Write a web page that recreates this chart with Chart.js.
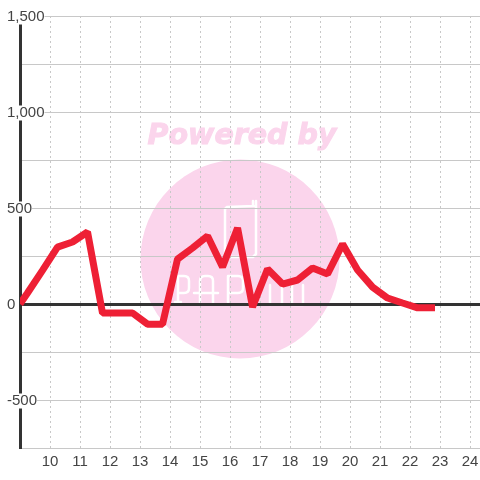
<!DOCTYPE html>
<html>
<head>
<meta charset="utf-8">
<style>
html, body { margin: 0; padding: 0; background: #fff; }
#wrap { position: relative; width: 480px; height: 480px; }
</style>
<script src="https://cdn.jsdelivr.net/npm/chart.js@4"></script>
</head>
<body>
<div id="wrap"><canvas id="myChart"></canvas></div>
<script>
// Data
const hours = [9, 9.25, 9.75, 10.25, 10.75, 11.25, 11.75, 12.25, 12.75, 13.25, 13.75, 14.25, 14.75, 15.25, 15.75, 16.25, 16.75, 17.25, 17.75, 18.25, 18.75, 19.25, 19.75, 20.25, 20.75, 21.25, 21.75, 22.25, 22.83];
const values = [0, 57, 175, 296, 323, 375, -47, -47, -47, -105, -105, 234, 292, 354, 193, 396, -16, 182, 104, 125, 187, 156, 312, 177, 88, 31, 5, -20, -20];
const xTicks = [10, 11, 12, 13, 14, 15, 16, 17, 18, 19, 20, 21, 22, 23, 24];
const yTicks = [-750, -500, -250, 0, 250, 500, 750, 1000, 1250, 1500];
const yLabelled = [-500, 0, 500, 1000, 1500];

// Watermark sits behind the grid
const watermark = {
    id: 'watermark',
    beforeDraw(chart) {
        const c = chart.ctx;
        c.save();
        c.fillStyle = '#fbd5ec';
        c.beginPath();
        c.arc(240, 259, 99.5, 0, Math.PI * 2);
        c.fill();

        c.font = 'italic bold 28.5px "DejaVu Sans"';
        c.textAlign = 'center';
        c.textBaseline = 'middle';
        c.strokeStyle = '#fbd5ec';
        c.lineWidth = 1;
        c.fillText('Powered by', 242, 137);
        c.strokeText('Powered by', 242, 137);

        // logo: phone outline and stencil letters
        c.strokeStyle = '#fff';
        c.lineWidth = 2.5;
        c.lineJoin = 'round';
        c.lineCap = 'round';
        c.beginPath();
        c.moveTo(254, 206);
        c.lineTo(227, 207);
        c.lineTo(225, 209);
        c.lineTo(225, 254);
        c.lineTo(228, 257);
        c.lineTo(253, 257);
        c.lineTo(256, 254);
        c.lineTo(256, 201);
        c.moveTo(253, 201);
        c.lineTo(253, 206);
        // P
        c.moveTo(175, 302);
        c.lineTo(181, 302);
        c.moveTo(178, 302);
        c.lineTo(178, 276);
        c.lineTo(184, 276);
        c.quadraticCurveTo(189, 276, 189, 281);
        c.lineTo(189, 288);
        c.quadraticCurveTo(189, 293, 184, 293);
        c.lineTo(178, 293);
        // A
        c.moveTo(200, 303);
        c.lineTo(200, 281);
        c.quadraticCurveTo(200, 276, 205, 276);
        c.lineTo(208, 276);
        c.quadraticCurveTo(213, 276, 213, 281);
        c.lineTo(213, 303);
        c.moveTo(194, 293);
        c.lineTo(218, 293);
        // P
        c.moveTo(228, 302);
        c.lineTo(228, 276);
        c.lineTo(238, 276);
        c.quadraticCurveTo(243, 276, 243, 281);
        c.lineTo(243, 288);
        c.quadraticCurveTo(243, 293, 238, 293);
        c.lineTo(228, 293);
        // trailing bars
        c.moveTo(270, 285);
        c.lineTo(270, 305);
        c.moveTo(282, 285);
        c.lineTo(282, 305);
        c.moveTo(292, 285);
        c.lineTo(292, 305);
        c.lineTo(303, 305);
        c.lineTo(303, 285);
        c.stroke();
        c.restore();
    }
};

const cv = document.getElementById('myChart').getContext('2d');
const myChart = new Chart(cv, {
    type: 'line',
    data: {
        datasets: [{
            data: hours.map((h, i) => ({ x: h, y: values[i] })),
            borderColor: '#ee2035',
            borderWidth: 7,
            pointRadius: 0,
            tension: 0,
            borderJoinStyle: 'bevel'
        }]
    },
    options: {
        responsive: true,
        maintainAspectRatio: false,
        animation: false,
        layout: { padding: { top: 16, left: 20, right: 0, bottom: 0 } },
        plugins: { legend: { display: false }, tooltip: { enabled: false } },
        scales: {
            x: {
                type: 'linear',
                min: 9,
                max: 24.33,
                afterBuildTicks(axis) { axis.ticks = xTicks.map(v => ({ value: v })); },
                afterFit(axis) {
                    axis.height = 32;
                    axis.paddingLeft = 0;
                    axis.paddingRight = 0;
                },
                grid: { color: '#c8c8c8', lineWidth: 1, drawTicks: false, tickLength: 0 },
                border: { color: '#c8c8c8', width: 1, dash: [2, 3], display: false },
                ticks: {
                    autoSkip: false,
                    maxRotation: 0,
                    padding: 5,
                    color: '#444',
                    font: { family: '"Liberation Sans"', size: 15 }
                }
            },
            y: {
                min: -750,
                max: 1500,
                afterBuildTicks(axis) { axis.ticks = yTicks.map(v => ({ value: v })); },
                afterFit(axis) { axis.width = 0; },
                grid: {
                    drawTicks: false,
                    color: ctx => ctx.tick.value === 0 ? '#333' : '#c8c8c8',
                    lineWidth: ctx => ctx.tick.value === 0 ? 3 : 1
                },
                border: { color: '#333', width: 3 },
                ticks: {
                    mirror: true,
                    padding: -13,
                    labelOffset: 1,
                    color: '#444',
                    font: { family: '"Liberation Sans"', size: 15, lineHeight: 1 },
                    showLabelBackdrop: true,
                    backdropPadding: { left: 1, right: 0, top: 0, bottom: 0 },
                    backdropColor: ctx => ctx.tick.label ? '#fff' : 'rgba(0,0,0,0)',
                    callback: v => yLabelled.includes(v) ? v.toLocaleString('en-US') : ''
                }
            }
        }
    },
    plugins: [watermark]
});
</script>
</body>
</html>
